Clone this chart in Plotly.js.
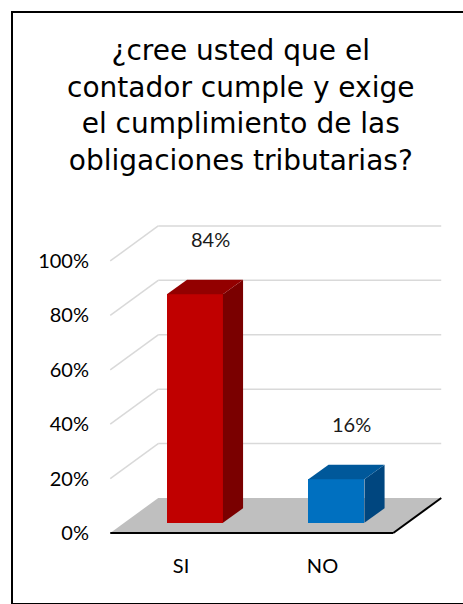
<!DOCTYPE html>
<html>
<head>
<meta charset="utf-8">
<script src="https://cdn.plot.ly/plotly-3.0.1.min.js"></script>
<style>
  html, body { margin: 0; padding: 0; background: #ffffff; overflow: hidden; }
  #wrap { position: relative; width: 463px; height: 604px; }
  #chart { width: 463px; height: 604px; }
  #frame { position: absolute; left: 11px; top: 11px; width: 460px; height: 590px;
           border-left: 2px solid #000; border-top: 2px solid #000; border-bottom: 2px solid #000;
           pointer-events: none; }
</style>
</head>
<body>
<div id="wrap"><div id="chart"></div><div id="frame"></div></div>
<script>
// ---- data ----
const categories = ['SI', 'NO'];
const values = [0.84, 0.16];
const tickValues = [0, 0.2, 0.4, 0.6, 0.8, 1.0];
const tickLabels = ['0%', '20%', '40%', '60%', '80%', '100%'];
const titleText = '¿cree usted que el<br>contador cumple y exige<br>el cumplimiento de las<br>obligaciones tributarias?';

// ---- styles / 3D projection settings ----
const palette = {
  front: ['#C00000', '#0070C0'],
  side:  ['#7A0000', '#00467F'],
  top:   ['#930000', '#00589A'],
  floor: '#BFBFBF',
  grid:  '#D9D9D9'
};
const DX = 0.339;    // full depth shift in x (category units)
const DY = 0.1287;   // full depth shift in y (value units)
const D0 = 0.29, D1 = 0.71;   // bar depth (front, back) as fraction of floor depth
const BW = 0.396;    // bar width

const traces = [];

// front faces (bars)
traces.push({
  type: 'bar',
  x: categories.map((c, i) => i + D0 * DX),
  y: values,
  base: values.map(() => D0 * DY),
  width: values.map(() => BW),
  marker: { color: palette.front, line: { width: 0 } },
  hoverinfo: 'skip'
});

// side & top faces
values.forEach((v, i) => {
  const xl = i + D0 * DX - BW / 2;
  const xr = i + D0 * DX + BW / 2;
  const b0 = D0 * DY;
  const ddx = (D1 - D0) * DX, ddy = (D1 - D0) * DY;
  traces.push({
    type: 'scatter', mode: 'lines', fill: 'toself',
    x: [xr, xr + ddx, xr + ddx, xr, xr],
    y: [b0, b0 + ddy, b0 + ddy + v, b0 + v, b0],
    fillcolor: palette.side[i], line: { width: 0, color: palette.side[i] },
    hoverinfo: 'skip'
  });
  traces.push({
    type: 'scatter', mode: 'lines', fill: 'toself',
    x: [xl, xr, xr + ddx, xl + ddx, xl],
    y: [b0 + v, b0 + v, b0 + v + ddy, b0 + v + ddy, b0 + v],
    fillcolor: palette.top[i], line: { width: 0, color: palette.top[i] },
    hoverinfo: 'skip'
  });
});

// walls, floor (background decoration)
const xL = -0.5, xR = categories.length - 0.5;
const shapes = [];
tickValues.forEach(t => {
  if (t === 0) return;
  shapes.push({ type: 'line', layer: 'below', xref: 'x', yref: 'y',
    x0: xL + DX, y0: t + DY, x1: xR + DX, y1: t + DY,
    line: { color: palette.grid, width: 1.5 } });
  shapes.push({ type: 'line', layer: 'below', xref: 'x', yref: 'y',
    x0: xL, y0: t, x1: xL + DX, y1: t + DY,
    line: { color: palette.grid, width: 1.5 } });
});
shapes.push({ type: 'path', layer: 'below', xref: 'x', yref: 'y',
  path: `M ${xL} 0 L ${xR} 0 L ${xR + DX} ${DY} L ${xL + DX} ${DY} Z`,
  fillcolor: palette.floor, line: { width: 0 } });
shapes.push({ type: 'line', layer: 'below', xref: 'x', yref: 'y',
  x0: xL, y0: 0, x1: xR, y1: 0, line: { color: '#000000', width: 2 } });
shapes.push({ type: 'line', layer: 'below', xref: 'x', yref: 'y',
  x0: xR, y0: 0, x1: xR + DX, y1: DY, line: { color: '#000000', width: 2 } });

// value labels
const annotations = values.map((v, i) => ({
  xref: 'x', yref: 'y', x: i + 0.207, y: v + 0.24,
  text: Math.round(v * 100) + '%', showarrow: false,
  font: { family: 'Lato', size: 20, color: '#1a1a1a' },
  xanchor: 'center', yanchor: 'middle'
}));

const layout = {
  width: 463, height: 604,
  margin: { l: 100, r: 13, t: 215, b: 64 },
  paper_bgcolor: '#ffffff', plot_bgcolor: 'rgba(0,0,0,0)',
  showlegend: false,
  title: {
    text: titleText,
    font: { family: 'DejaVu Sans', size: 28, color: '#000000' },
    x: 0.52, xanchor: 'center', xref: 'container',
    y: 0.90, yanchor: 'top', yref: 'container'
  },
  xaxis: {
    range: [-0.5724, 1.901], fixedrange: true,
    showgrid: false, zeroline: false, showline: false, ticks: '',
    tickvals: categories.map((c, i) => i), ticktext: categories,
    tickfont: { family: 'Lato', size: 20, color: '#000000' },
    ticklabelstandoff: 12
  },
  yaxis: {
    range: [-0.0257, 1.169], fixedrange: true,
    showgrid: false, zeroline: false, showline: false, ticks: '',
    tickvals: tickValues, ticktext: tickLabels,
    tickfont: { family: 'Lato', size: 20, color: '#000000' },
    ticklabelstandoff: 10
  },
  shapes: shapes,
  annotations: annotations,
  bargap: 0
};

Plotly.newPlot('chart', traces, layout, { staticPlot: true, displayModeBar: false });
</script>
</body>
</html>
